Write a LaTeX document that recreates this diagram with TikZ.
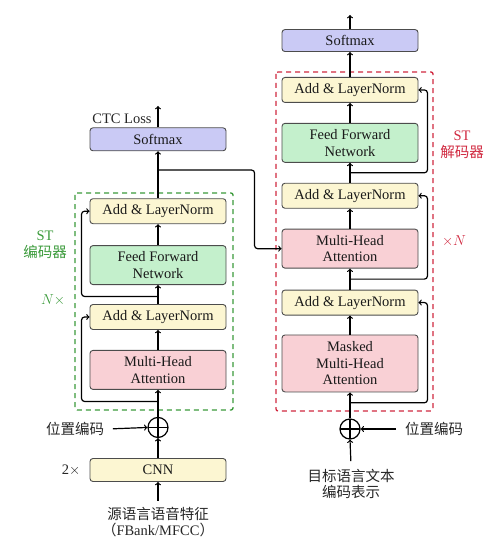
\documentclass[tikz,border=0pt]{standalone}
\usepackage{fontspec}
\setmainfont{Liberation Serif}
\newfontfamily\cjk{Noto Sans CJK SC}
\usepackage{tikz}
\usetikzlibrary{arrows,positioning,calc}

\definecolor{normyellow}{HTML}{FCF6D2}
\definecolor{ffngreen}{HTML}{C4F0CC}
\definecolor{attnpink}{HTML}{F9D0D5}
\definecolor{softblue}{HTML}{CACAF5}
\definecolor{encgreen}{HTML}{3A9A3A}
\definecolor{decred}{HTML}{D0283F}

\begin{document}
\begin{tikzpicture}[x=1pt,y=1pt,->,>=to,line width=1.2pt,
  font=\fontsize{14.5}{16.5}\selectfont,
  block/.style={draw=black!70,rounded corners=3pt,minimum width=136pt,
    align=center,line width=0.9pt,text=black!90},
  norm block/.style={block,fill=normyellow,minimum height=25pt},
  ffn block/.style={block,fill=ffngreen,minimum height=39pt},
  attn block/.style={block,fill=attnpink,minimum height=39pt},
  soft block/.style={block,fill=softblue,minimum height=22pt},
  plus node/.style={circle,draw,minimum size=20pt,inner sep=0pt,line width=1.2pt,
    path picture={\draw[-] (path picture bounding box.north) -- (path picture bounding box.south)
      (path picture bounding box.west) -- (path picture bounding box.east);}},
  frame/.style={-,dashed,dash pattern=on 5pt off 4pt,line width=1.3pt,rounded corners=2pt},
  res/.style={rounded corners=3pt}]

  \useasboundingbox (0,0) rectangle (500,-545);

  % dashed frames
  \draw[frame,encgreen] (75,-193) rectangle (233,-410);
  \draw[frame,decred] (276,-72) rectangle (433,-411);

  % encoder
  \node[norm block,minimum height=23pt] (ecnn) at (158,-470) {CNN};
  \node[plus node,above=20pt of ecnn] (eplus) {};
  \node[attn block,above=27pt of eplus] (emha) {Multi-Head\\Attention};
  \node[norm block,above=20pt of emha] (eln2) {Add \& LayerNorm};
  \node[ffn block,above=19pt of eln2] (effn) {Feed Forward\\Network};
  \node[norm block,above=21pt of effn] (eln1) {Add \& LayerNorm};
  \node[soft block,minimum height=23pt,above=47pt of eln1] (esoft) {Softmax};

  % decoder
  \node[plus node] (dplus) at (350,-429) {};
  \node[attn block,minimum height=57pt,above=26pt of dplus] (dmmha) {Masked\\Multi-Head\\Attention};
  \node[norm block,above=19pt of dmmha] (dln3) {Add \& LayerNorm};
  \node[attn block,above=21pt of dln3] (dmha) {Multi-Head\\Attention};
  \node[norm block,above=20pt of dmha] (dln2) {Add \& LayerNorm};
  \node[ffn block,above=20pt of dln2] (dffn) {Feed Forward\\Network};
  \node[norm block,above=20pt of dffn] (dln1) {Add \& LayerNorm};
  \node[soft block,above=25pt of dln1] (dsoft) {Softmax};

  % inputs and labels
  \node[align=center,text=black!85] (esrc) at (158,-522) {{\cjk 源语言语音特征}\\{\cjk （}FBank/MFCC{\cjk ）}};
  \node[text=black!85] (epos) at (75,-429) {\cjk 位置编码};
  \node[text=black!85] (cnnrep) at (71,-470) {2$\times$};
  \node[align=center,text=black!85] (dtgt) at (351,-484) {{\cjk 目标语言文本}\\{\cjk 编码表示}};
  \node[text=black!85] (dpos) at (434,-429) {\cjk 位置编码};
  \node[text=black!85] (ctclabel) at (122,-119) {CTC Loss};
  \node[text=encgreen,align=center] (enclabel) at (45,-245) {ST\\{\cjk 编码器}};
  \node[text=encgreen] (encn) at (53,-300) {$N\times$};
  \node[text=decred,align=center] (declabel) at (462,-145) {ST\\{\cjk 解码器}};
  \node[text=decred] (decn) at (454,-241) {$\times N$};

  \coordinate (ectc) at (158,-106);
  \coordinate (dout) at (350,-15);

  % main flow
  \foreach \a/\b in {ecnn/eplus,eplus/emha,emha/eln2,eln2/effn,effn/eln1,eln1/esoft,
      dplus/dmmha,dmmha/dln3,dln3/dmha,dmha/dln2,dln2/dffn,dffn/dln1,dln1/dsoft}
    \draw (\a.north) -- (\b.south);
  \draw (esoft.north) -- (ectc);
  \draw (dsoft.north) -- (dout);
  \draw[shorten <=2pt] (esrc.north) -- (ecnn.south);
  \draw[shorten <=4pt] (dtgt.north) -- (dplus.south);
  \draw[shorten <=5pt] (epos.east) -- (eplus.west);
  \draw[shorten <=5pt] (dpos.west) -- (dplus.east);

  % residual connections
  \coordinate (er1) at ($(eplus.north)!0.57!(emha.south)$);
  \coordinate (er2) at ($(eln2.north)!0.4!(effn.south)$);
  \coordinate (dr1) at ($(dplus.north)!0.6!(dmmha.south)$);
  \coordinate (dr2) at ($(dln3.north)!0.5!(dmha.south)$);
  \coordinate (dr3) at ($(dln2.north)!0.5!(dffn.south)$);
  \coordinate (eout) at ($(eln1.north)!0.6!(esoft.south)$);

  \draw[res] (er1) -| ([xshift=-8pt]eln2.west) -- (eln2.west);
  \draw[res] (er2) -| ([xshift=-8pt]eln1.west) -- (eln1.west);
  \draw[res] (dr1) -| ([xshift=9pt]dln3.east) -- (dln3.east);
  \draw[res] (dr2) -| ([xshift=9pt]dln2.east) -- (dln2.east);
  \draw[res] (dr3) -| ([xshift=9pt]dln1.east) -- (dln1.east);
  \draw[res] (eout) -| ([xshift=-27pt]dmha.west) -- (dmha.west);

\end{tikzpicture}
\end{document}
